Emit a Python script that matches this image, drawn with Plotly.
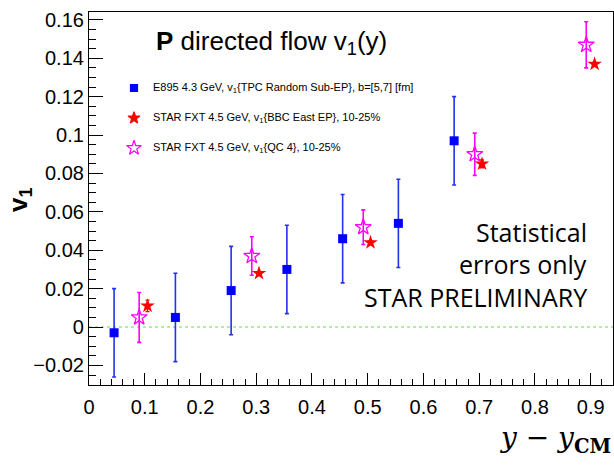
import plotly.graph_objects as go

# E895 4.3 GeV
e895_x = [0.045, 0.155, 0.255, 0.355, 0.455, 0.555, 0.655]
e895_y = [-0.003, 0.005, 0.019, 0.030, 0.046, 0.054, 0.097]
e895_err = [0.023, 0.023, 0.023, 0.023, 0.023, 0.023, 0.023]

# STAR FXT BBC East EP
bbc_x = [0.105, 0.305, 0.505, 0.705, 0.907]
bbc_y = [0.011, 0.028, 0.044, 0.085, 0.137]
bbc_err = [0.003, 0.001, 0.001, 0.002, 0.001]

# STAR FXT QC4
qc_x = [0.09, 0.292, 0.492, 0.692, 0.892]
qc_y = [0.005, 0.037, 0.052, 0.090, 0.147]
qc_err = [0.013, 0.010, 0.009, 0.011, 0.012]

W, H = 614, 467
ML, MR, MT, MB = 89, 1, 12, 82
PW, PH = W - ML - MR, H - MT - MB

def px(x):
    return (x - ML) / PW

def py(y):
    return (H - MB - y) / PH

fig = go.Figure()

fig.add_trace(go.Scatter(
    x=[0, 0.94], y=[0, 0], mode="lines",
    line=dict(color="#66dd44", width=1.2, dash="dot"), showlegend=False, hoverinfo="skip"))

fig.add_trace(go.Scatter(
    x=e895_x, y=e895_y, mode="markers",
    marker=dict(symbol="square", size=9, color="#0000ff"),
    error_y=dict(type="data", array=e895_err, color="#2233ee", thickness=1.6, width=2),
    showlegend=False))

fig.add_trace(go.Scatter(
    x=qc_x, y=qc_y, mode="markers",
    marker=dict(symbol="star-open", size=12, color="#ff00ff", line=dict(width=1.3, color="#ff00ff")),
    error_y=dict(type="data", array=qc_err, color="#ff00ff", thickness=1.6, width=2),
    showlegend=False))

fig.add_trace(go.Scatter(
    x=bbc_x, y=bbc_y, mode="markers",
    marker=dict(symbol="star", size=11, color="#ff0000"),
    error_y=dict(type="data", array=bbc_err, color="#ff0000", thickness=1.4, width=2),
    showlegend=False))

legend = [
    ("square", 7, "#0000ff", "E895 4.3 GeV, v<sub>1</sub>{TPC Random Sub-EP}, b=[5,7] [fm]", 88),
    ("star", 9, "#ff0000", "STAR FXT 4.5 GeV, v<sub>1</sub>{BBC East EP}, 10-25%", 118),
    ("star-open", 11, "#ff00ff", "STAR FXT 4.5 GeV, v<sub>1</sub>{QC 4}, 10-25%", 148),
]
for sym, sz, col, txt, yy in legend:
    fig.add_trace(go.Scatter(
        x=[px(134)], y=[py(yy)], xaxis="x2", yaxis="y2", mode="markers",
        marker=dict(symbol=sym, size=sz, color=col, line=dict(width=1.2, color=col)),
        showlegend=False, hoverinfo="skip"))
    fig.add_annotation(x=px(151), y=py(yy), xref="paper", yref="paper", text=txt,
                       showarrow=False, xanchor="left", yanchor="middle",
                       font=dict(family="Liberation Sans, Arial", size=11, color="#000"))

fig.add_annotation(x=px(154), y=py(42), xref="paper", yref="paper",
                   text="<b>P</b> directed flow v<sub>1</sub>(y)", showarrow=False,
                   xanchor="left", yanchor="middle",
                   font=dict(family="Liberation Sans, Arial", size=26, color="#000"))

for txt, yy in [("Statistical", 232), ("errors only", 264), ("STAR PRELIMINARY", 297)]:
    fig.add_annotation(x=px(589), y=py(yy), xref="paper", yref="paper", text=txt,
                       showarrow=False, xanchor="right", yanchor="middle",
                       font=dict(family="Open Sans", size=25, color="#000"))

fig.add_annotation(x=px(19), y=py(200), xref="paper", yref="paper",
                   text="<b>v<sub>1</sub></b>", showarrow=False, textangle=-90,
                   xanchor="center", yanchor="middle",
                   font=dict(family="Liberation Sans, Arial", size=26, color="#000"))

fig.add_annotation(x=px(613), y=py(440), xref="paper", yref="paper",
                   text="<i>y</i> − <i>y</i><sub><b>CM</b></sub>", showarrow=False,
                   xanchor="right", yanchor="middle",
                   font=dict(family="DejaVu Serif", size=28, color="#000"))

axis_common = dict(showgrid=False, zeroline=False, showline=True, linecolor="#000",
                   linewidth=1.2, mirror=True, ticks="inside", tickcolor="#000",
                   tickfont=dict(family="Liberation Sans, Arial", size=20, color="#000"))

fig.update_layout(
    width=W, height=H,
    margin=dict(l=ML, r=MR, t=MT, b=MB),
    paper_bgcolor="white", plot_bgcolor="white",
    showlegend=False,
    xaxis=dict(range=[0, 0.94], tickmode="array",
               tickvals=[0, 0.1, 0.2, 0.3, 0.4, 0.5, 0.6, 0.7, 0.8, 0.9],
               ticktext=["0", "0.1", "0.2", "0.3", "0.4", "0.5", "0.6", "0.7", "0.8", "0.9"],
               ticklen=12, ticklabelstandoff=4,
               minor=dict(dtick=0.02, ticks="inside", ticklen=6, tickcolor="#000"),
               **axis_common),
    yaxis=dict(range=[-0.0302, 0.1641], tickmode="array",
               tickvals=[-0.02, 0, 0.02, 0.04, 0.06, 0.08, 0.1, 0.12, 0.14, 0.16],
               ticktext=["−0.02", "0", "0.02", "0.04", "0.06", "0.08", "0.1", "0.12", "0.14", "0.16"],
               ticklen=14, minor=dict(dtick=0.005, ticks="inside", ticklen=7, tickcolor="#000"),
               **axis_common),
    xaxis2=dict(domain=[0, 1], range=[0, 1], visible=False, overlaying="x", anchor="y2"),
    yaxis2=dict(domain=[0, 1], range=[0, 1], visible=False, overlaying="y", anchor="x2"),
)

fig.write_html("out.html")
